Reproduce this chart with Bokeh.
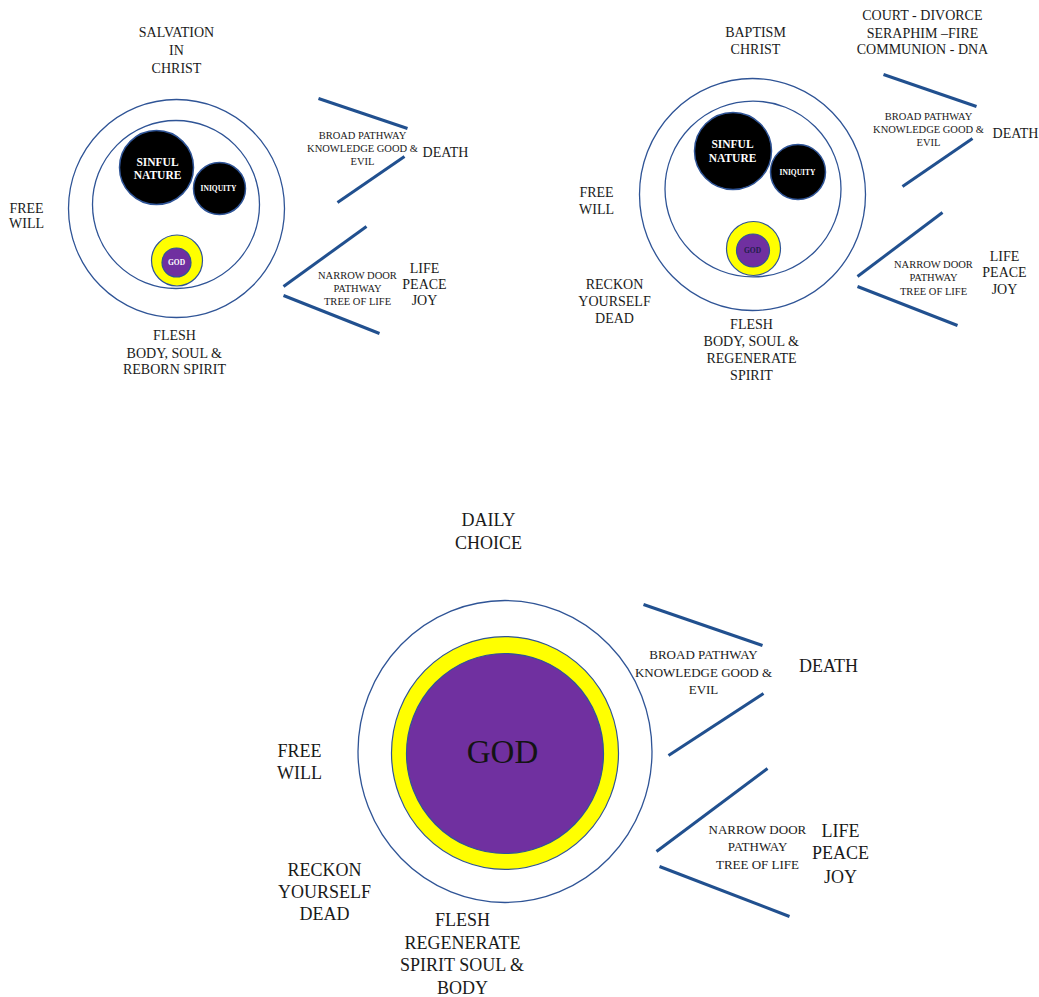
from bokeh.plotting import figure
from bokeh.models import Range1d, ColumnDataSource
from bokeh.core.properties import value
from bokeh.embed import file_html
from bokeh.resources import INLINE

FONT = "Liberation Serif"
LINE_BLUE = "#21508f"
RING_BLUE = "#2f5496"
TEXT = "#1a1a1a"

# ---- circles: x, y, diameter-x, diameter-y, fill, outline
circ_x = [176, 175.5, 156, 219, 176.5, 176,
          752, 752.5, 732.5, 797.5, 753, 752.5,
          504.5, 504.5, 504.5]
circ_y = [208, 204, 167, 188, 260, 262,
          194, 188.5, 150.5, 171.5, 248, 250,
          751, 752.5, 753]
circ_w = [216, 167, 74, 52, 51, 29,
          226, 176, 77, 55, 54, 33,
          294, 227, 197]
circ_h = [218, 168, 74, 52, 51, 29,
          232, 176, 77, 55, 54, 33,
          302, 233, 200]
circ_fill = [None, None, "black", "black", "yellow", "#7030a0",
             None, None, "black", "black", "yellow", "#7030a0",
             None, "yellow", "#7030a0"]
circ_lw = [1.3, 1.3, 1.5, 1.5, 1.2, 1.2,
           1.3, 1.3, 1.5, 1.5, 1.2, 1.2,
           1.3, 1.2, 1.2]

# ---- path lines
line_x0 = [318, 337, 283, 283, 883, 902, 857, 857, 643, 668, 656, 659]
line_y0 = [98, 202, 286, 295, 74, 186, 276, 286, 604, 755, 851, 866]
line_x1 = [407, 404, 366, 379, 976, 972, 942, 957, 762, 763, 767, 789]
line_y1 = [128, 156, 226, 333, 106, 138, 212, 325, 645, 693, 768, 916]

# ---- labels (one entry per text line)
lab_text = [
    # top-left
    "SALVATION", "IN", "CHRIST",
    "FREE", "WILL",
    "FLESH", "BODY, SOUL &", "REBORN SPIRIT",
    "DEATH",
    "LIFE", "PEACE", "JOY",
    # top-right
    "BAPTISM", "CHRIST",
    "COURT - DIVORCE", "SERAPHIM \u2013FIRE", "COMMUNION - DNA",
    "FREE", "WILL",
    "RECKON", "YOURSELF", "DEAD",
    "FLESH", "BODY, SOUL &", "REGENERATE", "SPIRIT",
    "DEATH",
    "LIFE", "PEACE", "JOY",
]
lab_x = [176, 176, 176, 26, 26, 174, 174, 174, 445, 424, 424, 424,
         755, 755, 922, 922, 922, 596, 596, 614, 614, 614,
         751, 751, 751, 751, 1015, 1004, 1004, 1004]
lab_y = [32, 50, 68, 208, 223, 335, 353, 369, 152, 268, 284, 300,
         32, 49, 15, 33, 49, 192, 209, 284, 301, 318,
         324, 341, 358, 375, 133, 256, 272, 289]

small_text = ["BROAD PATHWAY", "KNOWLEDGE GOOD &", "EVIL",
              "NARROW DOOR", "PATHWAY", "TREE OF LIFE",
              "BROAD PATHWAY", "KNOWLEDGE GOOD &", "EVIL",
              "NARROW DOOR", "PATHWAY", "TREE OF LIFE"]
small_x = [362, 362, 362, 357, 357, 357, 928, 928, 928, 933, 933, 933]
small_y = [135, 148, 161, 275, 288, 301, 116, 129, 142, 264, 277, 291]

inner_text = ["SINFUL", "NATURE", "SINFUL", "NATURE"]
inner_x = [157, 157, 732, 732]
inner_y = [161, 174, 143, 157]

tiny_text = ["INIQUITY", "GOD", "INIQUITY", "GOD"]
tiny_x = [218, 176, 797, 752]
tiny_y = [188, 262, 172, 250]
tiny_color = ["white", "white", "white", "#1f1f4a"]

big_text = ["DAILY", "CHOICE", "FREE", "WILL", "RECKON", "YOURSELF", "DEAD",
            "FLESH", "REGENERATE", "SPIRIT SOUL &", "BODY",
            "DEATH", "LIFE", "PEACE", "JOY"]
big_x = [488, 488, 299, 299, 324, 324, 324, 462, 462, 462, 462, 828, 840, 840, 840]
big_y = [519, 542, 750, 772, 869, 891, 913, 919, 942, 964, 987, 665, 830, 852, 876]

mid_text = ["BROAD PATHWAY", "KNOWLEDGE GOOD &", "EVIL",
            "NARROW DOOR", "PATHWAY", "TREE OF LIFE"]
mid_x = [703, 703, 703, 757, 757, 757]
mid_y = [654, 672, 689, 829, 846, 864]

god_text = ["GOD"]
god_x = [502]
god_y = [751]

W, H = 1039, 997
p = figure(width=W, height=H, output_backend="svg", toolbar_location=None,
           x_range=Range1d(0, W), y_range=Range1d(H, 0),
           min_border=0, outline_line_color=None)
p.axis.visible = False
p.grid.visible = False
p.background_fill_color = "white"

# circles
for i in range(len(circ_x)):
    p.ellipse(x=[circ_x[i]], y=[circ_y[i]], width=[circ_w[i]], height=[circ_h[i]],
              fill_color=circ_fill[i], fill_alpha=1.0 if circ_fill[i] else 0.0,
              line_color=RING_BLUE, line_width=circ_lw[i])

p.segment(x0=line_x0, y0=line_y0, x1=line_x1, y1=line_y1,
          line_color=LINE_BLUE, line_width=3)

def add_text(t, x, y, size, color=TEXT, bold=False):
    src = ColumnDataSource(dict(x=x, y=y, t=t, c=color if isinstance(color, list) else [color] * len(t)))
    p.text(x="x", y="y", text="t", source=src, text_color="c",
           text_font=value(FONT), text_font_size=f"{size}px",
           text_font_style="bold" if bold else "normal",
           text_align="center", text_baseline="middle")

add_text(lab_text, lab_x, lab_y, 14)
add_text(small_text, small_x, small_y, 10.5)
add_text(inner_text, inner_x, inner_y, 11.5, color="white", bold=True)
add_text(tiny_text, tiny_x, tiny_y, 7.5, color=tiny_color, bold=True)
add_text(big_text, big_x, big_y, 18)
add_text(mid_text, mid_x, mid_y, 13)
add_text(god_text, god_x, god_y, 33, color="#141414")

open("out.html", "w").write(file_html(p, INLINE))
